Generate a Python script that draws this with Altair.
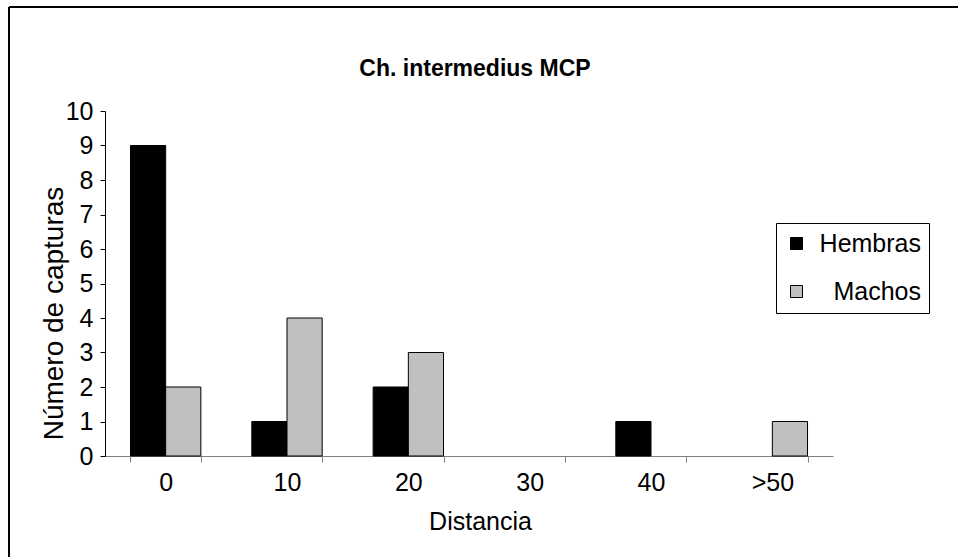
import altair as alt
import pandas as pd

categories = ["0", "10", "20", "30", "40", ">50"]
hembras = [9, 1, 2, 0, 1, 0]
machos = [2, 4, 3, 0, 0, 1]
series = ["Hembras", "Machos"]
y_ticks = list(range(0, 11))

rows = []
for c, h, m in zip(categories, hembras, machos):
    rows.append({"Distancia": c, "Sexo": "Hembras", "Capturas": h})
    rows.append({"Distancia": c, "Sexo": "Machos", "Capturas": m})
df = pd.DataFrame(rows)

FONT = "Liberation Sans"
W, H = 728, 345
PL, PT = 105, 111
PR, PB = 958 - PL - W, 557 - PT - H

bars = alt.Chart(df).transform_filter("datum.Capturas > 0").mark_bar(
    stroke="black", strokeWidth=1
).encode(
    x=alt.X("Distancia:N", sort=categories,
            scale=alt.Scale(domain=categories, paddingInner=0.42, paddingOuter=0.21),
            axis=alt.Axis(title="Distancia", labelAngle=0, tickBand="extent",
                          domainColor="#808080", tickColor="#808080",
                          tickSize=6, labelPadding=8,
                          labelFontSize=25, titleFontSize=25,
                          titleFontWeight="normal", titleX=375, titlePadding=14,
                          labelColor="black", titleColor="black")),
    xOffset=alt.XOffset("Sexo:N", sort=series,
                        scale=alt.Scale(domain=series, paddingInner=0, paddingOuter=0)),
    y=alt.Y("Capturas:Q", scale=alt.Scale(domain=[0, 10], nice=False),
            axis=alt.Axis(title="Número de capturas", values=y_ticks, grid=False,
                          domainColor="black", tickColor="black", tickSize=5,
                          labelPadding=7, labelFontSize=25, titleFontSize=28,
                          titleFontWeight="normal", titleX=-43, titleY=202,
                          titleBaseline="alphabetic",
                          labelColor="black", titleColor="black")),
    color=alt.Color("Sexo:N", sort=series,
                    scale=alt.Scale(domain=series, range=["#000000", "#C0C0C0"]),
                    legend=alt.Legend(title=None, orient="none", legendX=671, legendY=112,
                                      strokeColor="black", fillColor="white",
                                      padding=8, symbolType="square", symbolSize=144,
                                      symbolStrokeColor="black", symbolStrokeWidth=1,
                                      labelFontSize=25, labelOffset=112, labelAlign="right",
                                      rowPadding=22, labelColor="black")),
)

border_df = pd.DataFrame({"k": [0]})
left_line = alt.Chart(border_df).mark_rule(color="black", strokeWidth=2).encode(
    x=alt.value(-96), y=alt.value(-104), y2=alt.value(H + PB)
)
top_line = alt.Chart(border_df).mark_rule(color="black", strokeWidth=2).encode(
    x=alt.value(-96), x2=alt.value(W + PR), y=alt.value(-104)
)

chart = alt.layer(bars, left_line, top_line).properties(
    width=W, height=H,
    title=alt.TitleParams("Ch. intermedius MCP", fontSize=23, fontWeight="bold",
                          font=FONT, anchor="middle", dx=6, dy=93, offset=0,
                          baseline="alphabetic", color="black"),
    autosize=alt.AutoSizeParams(type="none"),
    padding={"left": PL, "top": PT, "right": PR, "bottom": PB},
    background="white",
).configure(font=FONT).configure_view(stroke=None)

chart.save("out.html", embed_options={"renderer": "svg", "actions": False})
